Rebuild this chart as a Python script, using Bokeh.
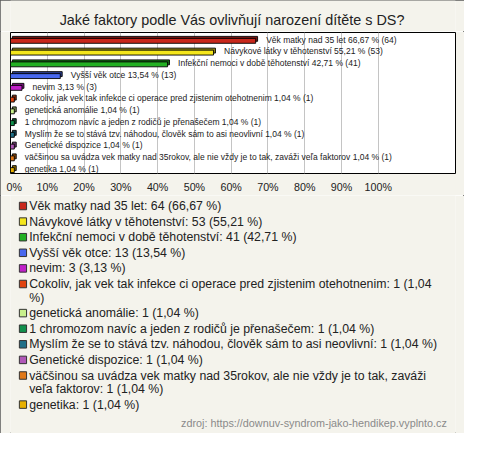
import textwrap
from bokeh.plotting import figure
from bokeh.models import ColumnDataSource, FactorRange, Range1d, FixedTicker
from bokeh.transform import dodge
from bokeh.layouts import column
from bokeh.core.properties import value
from bokeh.embed import file_html
from bokeh.resources import INLINE

# ---------------- data ----------------
title_text = "Jaké faktory podle Vás ovlivňují narození dítěte s DS?"
categories = [
    "Věk matky nad 35 let",
    "Návykové látky v těhotenství",
    "Infekční nemoci v době těhotenství",
    "Vyšší věk otce",
    "nevim",
    "Cokoliv, jak vek tak infekce ci operace pred zjistenim otehotnenim",
    "genetická anomálie",
    "1 chromozom navíc a jeden z rodičů je přenašečem",
    "Myslím že se to stává tzv. náhodou, člověk sám to asi neovlivní",
    "Genetické dispozice",
    "väčšinou sa uvádza vek matky nad 35rokov, ale nie vždy je to tak, zaváži veľa faktorov",
    "genetika",
]
counts = [64, 53, 41, 13, 3, 1, 1, 1, 1, 1, 1, 1]
percents = [66.67, 55.21, 42.71, 13.54, 3.13, 1.04, 1.04, 1.04, 1.04, 1.04, 1.04, 1.04]
colors = ["#c8281c", "#f4e61c", "#22b022", "#4868ee", "#c020c8", "#e04410",
          "#c8f08c", "#10904c", "#207088", "#b058b8", "#e07818", "#e8b000"]
tick_values = [0, 10, 20, 30, 40, 50, 60, 70, 80, 90, 100]
source_text = "zdroj: https://downuv-syndrom-jako-hendikep.vyplnto.cz"

BG = "#f4f3ec"
FONT = "Liberation Sans"
W = 464
TOTAL_H = 433


def fmt(v):
    return f"{v:.2f}".replace(".", ",")


def darker(hexc, f=0.62):
    r, g, b = int(hexc[1:3], 16), int(hexc[3:5], 16), int(hexc[5:7], 16)
    return "#%02x%02x%02x" % (int(r * f), int(g * f), int(b * f))


def blank(h):
    f = figure(width=W, height=h, output_backend="svg", toolbar_location=None,
               x_range=Range1d(0, W), y_range=Range1d(h, 0), align="start",
               min_border=0, border_fill_color=BG, background_fill_color=BG)
    f.axis.visible = False
    f.grid.visible = False
    f.outline_line_color = None
    return f


# ---------------- title strip ----------------
H0 = 31
t = blank(H0)
t.text(x=[231], y=[19], text=[title_text], text_baseline="middle", text_align="center",
       text_font=value(FONT), text_font_size="14.4px", text_color="#222222")

# ---------------- bar chart ----------------
XMAX = 121.0
H1 = 164
p = figure(width=W, height=H1, output_backend="svg", toolbar_location=None, align="start",
           x_range=Range1d(0, XMAX), y_range=FactorRange(factors=list(reversed(categories)), range_padding=0),
           min_border_left=10, min_border_right=9, min_border_top=1, min_border_bottom=0,
           background_fill_color="white", border_fill_color=BG)
p.outline_line_color = "#000000"
p.outline_line_width = 1

FW = W - 10 - 9
px_x = XMAX / FW      # data units per pixel on x
off_x = 1.9 * px_x

src = ColumnDataSource(dict(
    cat=categories,
    pct=percents,
    zero=[0.0] * len(categories),
    back_l=[off_x] * len(categories),
    back_r=[v + off_x for v in percents],
    color=colors,
    dark=[darker(c) for c in colors],
    label=[f"{c} {fmt(v)} % ({n})" for c, v, n in zip(categories, percents, counts)],
))

p.hbar(y=dodge("cat", -0.04, range=p.y_range), left="back_l", right="back_r", height=0.42,
       fill_color="dark", line_color="#000000", line_width=0.9, source=src)
p.hbar(y=dodge("cat", -0.21, range=p.y_range), left="zero", right="pct", height=0.42,
       fill_color="color", line_color="#000000", line_width=0.9, source=src)
p.text(x="pct", y=dodge("cat", -0.1, range=p.y_range), text="label", source=src,
       x_offset=10.5, text_baseline="middle", text_align="left",
       text_font=value(FONT), text_font_size="8.5px", text_color="#222222")

p.yaxis.visible = False
p.ygrid.visible = False
p.xaxis.ticker = FixedTicker(ticks=tick_values)
overrides = {t_: f"{t_}%" for t_ in tick_values}
overrides[0] = "\u00a0\u00a00%"
p.xaxis.major_label_overrides = overrides
p.xaxis.axis_line_color = None
p.xaxis.major_tick_line_color = None
p.xaxis.minor_tick_line_color = None
p.xaxis.major_tick_out = 0
p.xaxis.major_tick_in = 0
p.xaxis.major_label_standoff = 7
p.xaxis.major_label_text_font = FONT
p.xaxis.major_label_text_font_size = "10.7px"
p.xaxis.major_label_text_color = "#222222"
p.xgrid.grid_line_color = "#c4c4c4"
p.xgrid.grid_line_width = 1

# ---------------- legend area ----------------
Y0 = H0 + H1      # canvas y where the legend strip starts
H2 = TOTAL_H - Y0
q = blank(H2)

sq_x, sq_y, sq_c = [], [], []
tx, ty, tt = [], [], []
y = 205.5 - Y0
for c, v, n, col in zip(categories, percents, counts, colors):
    lines = textwrap.wrap(f"{c}: {n} ({fmt(v)} %)", width=75)
    sq_x.append(13)
    sq_y.append(y)
    sq_c.append(col)
    for k, ln in enumerate(lines):
        tx.append(19.5)
        ty.append(y + 13.5 * k)
        tt.append(ln)
    y += 13.5 * (len(lines) - 1) + 15.6

q.rect(x=sq_x, y=sq_y, width=7.5, height=7.5, fill_color=sq_c, line_color="#333333", line_width=1)
q.text(x=tx, y=ty, text=tt, text_baseline="middle", text_align="left",
       text_font=value(FONT), text_font_size="12.3px", text_color="#222222")
q.text(x=[455], y=[422 - Y0], text=[source_text], text_baseline="middle", text_align="right",
       text_font=value(FONT), text_font_size="10.8px", text_color="#8a8a8a")

layout = column(t, p, q, spacing=0,
                styles={"outline": "1px solid #5a5a5a", "outline-offset": "-1px"})
open("out.html", "w").write(file_html(layout, INLINE))
